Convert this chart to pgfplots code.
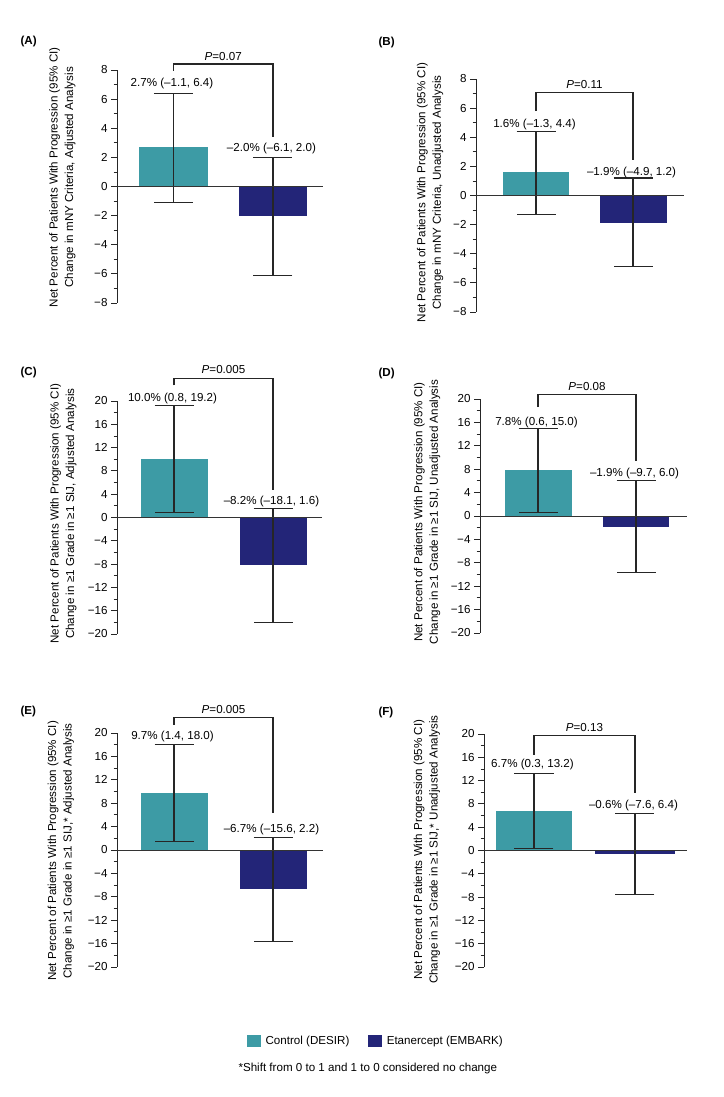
\documentclass[border=0pt]{standalone}
\usepackage{pgfplots}
\pgfplotsset{compat=1.18}
\usepackage{fontspec}
\setmainfont{Liberation Sans}
\definecolor{ctrl}{RGB}{61,155,165}
\definecolor{etan}{RGB}{35,37,120}
\newcommand\lbl{\fontsize{11.6}{15.5}\selectfont}
\pgfplotsset{
  panel/.style={
    scale only axis, clip=false,
    axis y line*=left, axis x line=none, xtick=\empty,
    tick align=outside, major tick length=6pt, minor tick length=3.5pt,
    minor y tick num=1,
    every tick/.style={black!85, line width=0.8pt},
    axis line style={black!85, line width=0.9pt},
    yticklabel style={font=\lbl},
    ylabel style={font=\lbl, align=center, anchor=center},
    /pgf/number format/assume math mode=true,
  },
  small/.style={ymin=-8, ymax=8, ytick={-8,-6,-4,-2,0,2,4,6,8},
    yticklabels={−8,−6,−4,−2,0,2,4,6,8}},
  big/.style={ymin=-20, ymax=20, ytick={-20,-16,-12,-8,-4,0,4,8,12,16,20},
    yticklabels={−20,−16,−12,−8,−4,0,4,8,12,16,20}},
  errs/.style={
    error bars/y dir=both, error bars/y explicit,
    error bars/error bar style={black!85, line width=1.2pt},
    error bars/error mark options={rotate=90, black!85, mark size=19.5pt, line width=1.1pt}},
  barc/.style={ybar, bar shift=0pt, bar width=#1, fill=ctrl, draw=none, errs},
  bare/.style={ybar, bar shift=0pt, bar width=#1, fill=etan, draw=none, errs},
}
\newcommand\zeroline{\draw[black!80, line width=0.9pt] ({rel axis cs:0,0}|-{axis cs:0,0}) -- ({rel axis cs:1,0}|-{axis cs:0,0});}
\begin{document}
\begin{tikzpicture}[x=1pt,y=1pt]
\path[use as bounding box] (0,0) rectangle (723,1097);

% ---------- (A)
\node[anchor=west, font=\lbl\bfseries] at (17,1055) {(A)};
\begin{axis}[panel, small, at={(117pt,794pt)}, anchor=south west, width=206pt, height=233pt,
  xmin=-0.568, xmax=1.503,
  ylabel={Net Percent of Patients With Progression (95\% CI)\\Change in mNY Criteria, Adjusted Analysis},
  ylabel style={at={(axis description cs:-0.265,0.539)}}]
\addplot[barc=68pt] coordinates {(0,2.7) += (0,3.7) -= (0,3.8)};
\addplot[bare=68pt] coordinates {(1,-2.0) += (0,4.0) -= (0,4.1)};
\zeroline
\draw[black!85, line width=1.1pt] (axis cs:0,7.93) -- (axis cs:0,8.41) -- (axis cs:1,8.41) -- (axis cs:1,3.4);
\node[anchor=base, font=\lbl, yshift=3.5pt] at (axis cs:0.5,8.41) {\textit{P}=0.07};
\node[anchor=base, font=\lbl, yshift=7pt, xshift=-1.5pt] at (axis cs:0,6.4) {2.7\% (–1.1, 6.4)};
\node[anchor=base, font=\lbl, yshift=6pt, xshift=-1.5pt] at (axis cs:1,2.0) {–2.0\% (–6.1, 2.0)};
\end{axis}

% ---------- (B)
\node[anchor=west, font=\lbl\bfseries] at (375,1054) {(B)};
\begin{axis}[panel, small, at={(476pt,785pt)}, anchor=south west, width=208pt, height=233pt,
  xmin=-0.619, xmax=1.526,
  ylabel={Net Percent of Patients With Progression (95\% CI)\\Change in mNY Criteria, Unadjusted Analysis},
  ylabel style={at={(axis description cs:-0.221,0.513)}}]
\addplot[barc=66pt] coordinates {(0,1.6) += (0,2.8) -= (0,2.9)};
\addplot[bare=67pt] coordinates {(1,-1.9) += (0,3.1) -= (0,3.0)};
\zeroline
\draw[black!85, line width=1.1pt] (axis cs:0,5.8) -- (axis cs:0,7.1) -- (axis cs:1,7.1) -- (axis cs:1,2.44);
\node[anchor=base, font=\lbl, yshift=4pt] at (axis cs:0.5,7.1) {\textit{P}=0.11};
\node[anchor=base, font=\lbl, yshift=4.3pt, xshift=-1.5pt] at (axis cs:0,4.4) {1.6\% (–1.3, 4.4)};
\node[anchor=base, font=\lbl, yshift=2.7pt, xshift=-1.5pt] at (axis cs:1,1.2) {–1.9\% (–4.9, 1.2)};
\end{axis}

% ---------- (C)
\node[anchor=west, font=\lbl\bfseries] at (17,724) {(C)};
\begin{axis}[panel, big, at={(117pt,463pt)}, anchor=south west, width=205pt, height=233pt,
  xmin=-0.576, xmax=1.495,
  ylabel={Net Percent of Patients With Progression (95\% CI)\\Change in ≥1 Grade in ≥1 SIJ, Adjusted Analysis},
  ylabel style={at={(axis description cs:-0.261,0.517)}}]
\addplot[barc=67pt] coordinates {(0,10.0) += (0,9.2) -= (0,9.2)};
\addplot[bare=67pt] coordinates {(1,-8.2) += (0,9.8) -= (0,9.9)};
\zeroline
\draw[black!85, line width=1.1pt] (axis cs:0,22.7) -- (axis cs:0,23.9) -- (axis cs:1,23.9) -- (axis cs:1,4.7);
\node[anchor=base, font=\lbl, yshift=4.5pt] at (axis cs:0.5,23.9) {\textit{P}=0.005};
\node[anchor=base, font=\lbl, yshift=4.3pt, xshift=-1.5pt] at (axis cs:0,19.2) {10.0\% (0.8, 19.2)};
\node[anchor=base, font=\lbl, yshift=3.7pt, xshift=-1.5pt] at (axis cs:1,1.6) {–8.2\% (–18.1, 1.6)};
\end{axis}

% ---------- (D)
\node[anchor=west, font=\lbl\bfseries] at (375,723) {(D)};
\begin{axis}[panel, big, at={(480pt,464pt)}, anchor=south west, width=207pt, height=234pt,
  xmin=-0.592, xmax=1.520,
  ylabel={Net Percent of Patients With Progression (95\% CI)\\Change in ≥1 Grade in ≥1 SIJ, Unadjusted Analysis},
  ylabel style={at={(axis description cs:-0.256,0.517)}}]
\addplot[barc=67pt] coordinates {(0,7.8) += (0,7.2) -= (0,7.2)};
\addplot[bare=66pt] coordinates {(1,-1.9) += (0,7.9) -= (0,7.8)};
\zeroline
\draw[black!85, line width=1.1pt] (axis cs:0,18.6) -- (axis cs:0,20.7) -- (axis cs:1,20.7) -- (axis cs:1,9.4);
\node[anchor=base, font=\lbl, yshift=4pt] at (axis cs:0.5,20.7) {\textit{P}=0.08};
\node[anchor=base, font=\lbl, yshift=3pt, xshift=-1.5pt] at (axis cs:0,15.0) {7.8\% (0.6, 15.0)};
\node[anchor=base, font=\lbl, yshift=4.3pt, xshift=-1.5pt] at (axis cs:1,6.0) {–1.9\% (–9.7, 6.0)};
\end{axis}

% ---------- (E)
\node[anchor=west, font=\lbl\bfseries] at (17,385) {(E)};
\begin{axis}[panel, big, at={(117pt,130pt)}, anchor=south west, width=206pt, height=234pt,
  xmin=-0.576, xmax=1.505,
  ylabel={Net Percent of Patients With Progression (95\% CI)\\Change in ≥1 Grade in ≥1 SIJ,* Adjusted Analysis},
  ylabel style={at={(axis description cs:-0.272,0.496)}},
  legend style={at={(axis description cs:0.631,-0.316)}, anchor=west, draw=none,
    inner sep=0pt, font=\lbl, legend columns=2,
    /tikz/every odd column/.append style={column sep=3pt},
    /tikz/every even column/.append style={column sep=17pt}},
  legend cell align=left]
\addplot[forget plot, barc=67pt] coordinates {(0,9.7) += (0,8.3) -= (0,8.3)};
\addplot[forget plot, bare=67pt] coordinates {(1,-6.7) += (0,8.9) -= (0,8.9)};
\addlegendimage{legend image code/.code={\fill[ctrl] (0pt,-5.5pt) rectangle (13pt,5.5pt);}}
\addlegendentry{Control (DESIR)}
\addlegendimage{legend image code/.code={\fill[etan] (0pt,-5.5pt) rectangle (13pt,5.5pt);}}
\addlegendentry{Etanercept (EMBARK)}
\zeroline
\draw[black!85, line width=1.1pt] (axis cs:0,21.4) -- (axis cs:0,22.6) -- (axis cs:1,22.6) -- (axis cs:1,6.3);
\node[anchor=base, font=\lbl, yshift=4pt] at (axis cs:0.5,22.6) {\textit{P}=0.005};
\node[anchor=base, font=\lbl, yshift=4.7pt, xshift=-1.5pt] at (axis cs:0,18.0) {9.7\% (1.4, 18.0)};
\node[anchor=base, font=\lbl, yshift=4.7pt, xshift=-1.5pt] at (axis cs:1,2.2) {–6.7\% (–15.6, 2.2)};
\end{axis}

% ---------- (F)
\node[anchor=west, font=\lbl\bfseries] at (375,384) {(F)};
\begin{axis}[panel, big, at={(484pt,130pt)}, anchor=south west, width=203pt, height=233pt,
  xmin=-0.495, xmax=1.515,
  ylabel={Net Percent of Patients With Progression (95\% CI)\\Change in ≥1 Grade in ≥1 SIJ,* Unadjusted Analysis},
  ylabel style={at={(axis description cs:-0.281,0.504)}}]
\addplot[barc=76pt] coordinates {(0,6.7) += (0,6.5) -= (0,6.4)};
\addplot[bare=80pt] coordinates {(1,-0.6) += (0,7.0) -= (0,7.0)};
\zeroline
\draw[black!85, line width=1.1pt] (axis cs:0,16.4) -- (axis cs:0,19.8) -- (axis cs:1,19.8) -- (axis cs:1,9.9);
\node[anchor=base, font=\lbl, yshift=4pt] at (axis cs:0.5,19.8) {\textit{P}=0.13};
\node[anchor=base, font=\lbl, yshift=6pt, xshift=-1.5pt] at (axis cs:0,13.2) {6.7\% (0.3, 13.2)};
\node[anchor=base, font=\lbl, yshift=5pt, xshift=-1.5pt] at (axis cs:1,6.4) {–0.6\% (–7.6, 6.4)};
\end{axis}

\node[anchor=west, font=\lbl] at (235,28) {*Shift from 0 to 1 and 1 to 0 considered no change};
\end{tikzpicture}
\end{document}
